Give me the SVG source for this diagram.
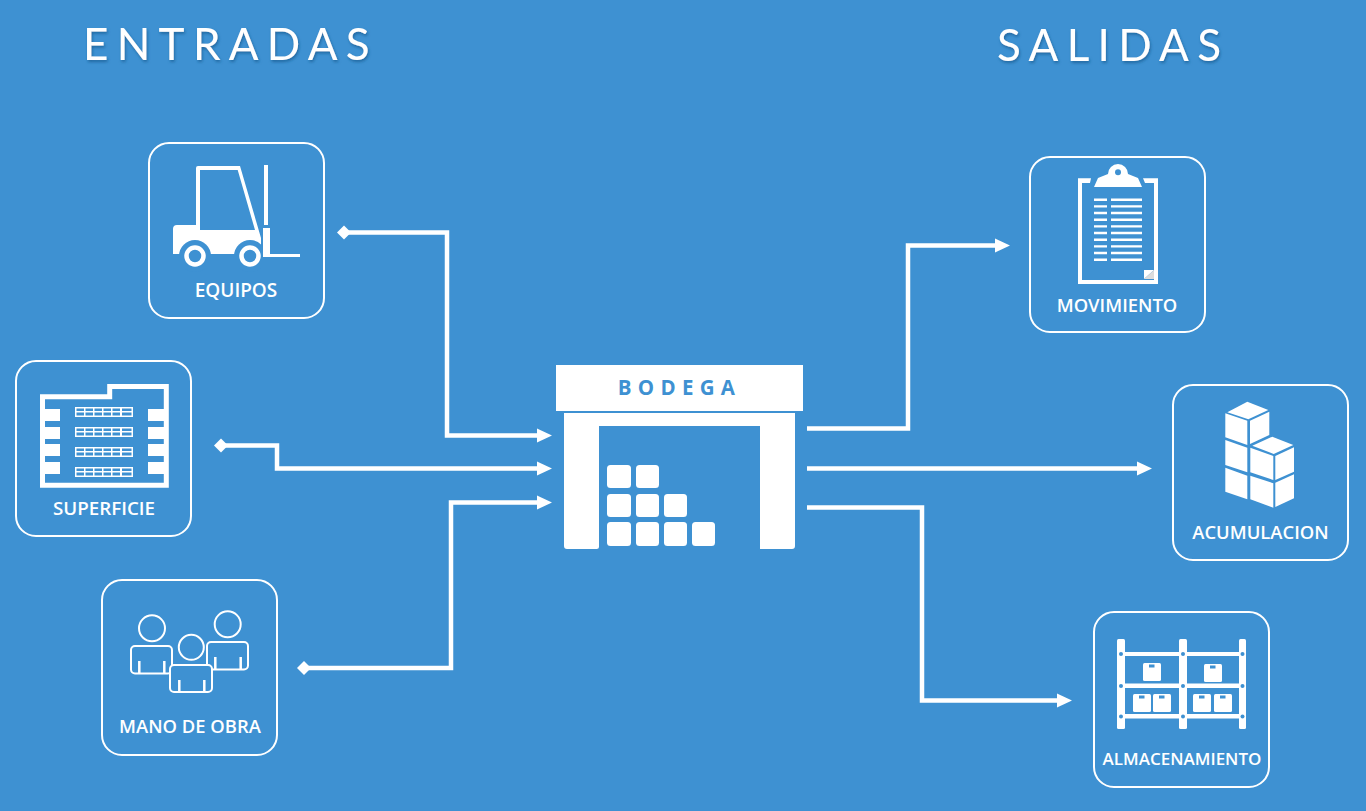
<svg xmlns="http://www.w3.org/2000/svg" width="1366" height="811" viewBox="0 0 1366 811">
<style>
.bg{fill:#3e91d2}
.w{fill:#fff}
.b{fill:#3e91d2}
.card{fill:none;stroke:#fff;stroke-width:2}
.label{font-family:"Open Sans","Liberation Sans",sans-serif;font-weight:600;font-size:18.400px;fill:#fff;text-anchor:middle}
.title{font-family:Lato,"Liberation Sans",sans-serif;font-weight:400;font-size:44px;letter-spacing:8.300px;fill:#fff;filter:url(#sh)}
.conn{fill:none;stroke:#fff;stroke-width:4.500}
.ol{fill:#3e91d2;stroke:#fff;stroke-width:2}
.tick{stroke:#fff;stroke-width:2.500}
</style>
<defs>
<filter id="sh" x="-5%" y="-20%" width="110%" height="150%"><feDropShadow dx="1" dy="2" stdDeviation="1.500" flood-color="#1d5f94" flood-opacity="0.8"/></filter>
<marker id="arrow" markerUnits="userSpaceOnUse" markerWidth="16" markerHeight="16" refX="0" refY="8" orient="auto" overflow="visible"><path d="M0 1L15 8L0 15Z" fill="#fff"/></marker>
<marker id="dia" markerUnits="userSpaceOnUse" markerWidth="16" markerHeight="16" refX="8" refY="8" orient="auto" overflow="visible"><path d="M8 1L15 8L8 15L1 8Z" fill="#fff"/></marker>
<g id="rack"><rect width="58" height="10" fill="#fff"/><g fill="#3e91d2"><rect x="1.500" y="1.500" width="7.500" height="2.500"/><rect x="10.500" y="1.500" width="7.500" height="2.500"/><rect x="19.500" y="1.500" width="7.500" height="2.500"/><rect x="28.500" y="1.500" width="7.500" height="2.500"/><rect x="37.500" y="1.500" width="7.500" height="2.500"/><rect x="47" y="1.500" width="9.500" height="2.500"/><rect x="1.500" y="5.500" width="7.500" height="3"/><rect x="10.500" y="5.500" width="7.500" height="3"/><rect x="19.500" y="5.500" width="7.500" height="3"/><rect x="28.500" y="5.500" width="7.500" height="3"/><rect x="37.500" y="5.500" width="7.500" height="3"/><rect x="47" y="5.500" width="9.500" height="3"/></g></g>
<g id="crate"><rect width="18" height="18" rx="1.500" fill="#fff"/><rect x="6" y="1.500" width="5.500" height="3" fill="#3e91d2"/></g>
</defs>
<rect class="bg" width="1366" height="811"/>
<text class="title" x="83" y="60">ENTRADAS</text>
<text class="title" x="997" y="61">SALIDAS</text>
<g id="connectors">
<path class="conn" d="M344 232.500H447V435.500H537" marker-start="url(#dia)" marker-end="url(#arrow)"/>
<path class="conn" d="M221 445.500H277V468.500H537" marker-start="url(#dia)" marker-end="url(#arrow)"/>
<path class="conn" d="M304 668H451V502.500H537" marker-start="url(#dia)" marker-end="url(#arrow)"/>
<path class="conn" d="M807 428.500H908V245.500H995" marker-end="url(#arrow)"/>
<path class="conn" d="M807 468.500H1137" marker-end="url(#arrow)"/>
<path class="conn" d="M807 507.500H922V700.500H1057" marker-end="url(#arrow)"/>
</g>
<g id="equipos">
<rect class="card" x="149" y="143" width="175" height="175" rx="20"/>
<path class="w" fill-rule="evenodd" d="M198 166H240L261 238V254H173V229Q173 225 177 225H196V168Q196 166 198 166ZM200 170V230H255L237.700 170Z"/>
<circle class="b" cx="195" cy="256" r="16"/><circle class="b" cx="250" cy="256" r="16"/>
<rect class="b" x="173" y="254" width="130" height="14"/>
<circle cx="195" cy="256" r="8.500" fill="none" stroke="#fff" stroke-width="4.500"/>
<circle cx="250" cy="256" r="8.500" fill="none" stroke="#fff" stroke-width="4.500"/>
<rect class="w" x="264" y="165" width="4" height="60"/>
<path class="w" d="M263 228H270V254H300V257H263Z"/>
<text class="label" x="236" y="296.500" style="font-size:19px">EQUIPOS</text>
</g>
<g id="superficie">
<rect class="card" x="16" y="361" width="175" height="175" rx="20"/>
<path fill="none" stroke="#fff" stroke-width="5" d="M42.500 485.300V396.800H109.700V386.500H166.300V485.300Z"/>
<g class="w"><rect x="45" y="409" width="15" height="12"/><rect x="45" y="427" width="15" height="12"/><rect x="45" y="444" width="15" height="12"/><rect x="45" y="462" width="15" height="12"/><rect x="148" y="409" width="16" height="12"/><rect x="148" y="427" width="16" height="12"/><rect x="148" y="444" width="16" height="12"/><rect x="148" y="462" width="16" height="12"/></g>
<use href="#rack" x="75" y="407"/><use href="#rack" x="75" y="427"/><use href="#rack" x="75" y="447"/><use href="#rack" x="75" y="467"/>
<text class="label" x="104" y="515" style="font-size:18.800px">SUPERFICIE</text>
</g>
<g id="mano-de-obra">
<rect class="card" x="102" y="580" width="175" height="175" rx="20"/>
<circle class="ol" cx="152" cy="628.300" r="13"/><circle class="ol" cx="227.700" cy="624.300" r="13"/>
<rect class="ol" x="131" y="646" width="41" height="27.500" rx="4"/><rect class="ol" x="207" y="642" width="41" height="27.500" rx="4"/>
<path class="tick" d="M139.300 661V673.500M164.300 661V673.500M215.300 657V669.500M240.700 657V669.500"/>
<circle class="ol" cx="191.300" cy="647.300" r="12.500"/>
<rect class="ol" x="170" y="665" width="42" height="27" rx="4"/>
<path class="tick" d="M179.300 680V692M204.300 680V692"/>
<text class="label" x="190" y="733">MANO DE OBRA</text>
</g>
<g id="bodega">
<rect class="w" x="556" y="365" width="247" height="46"/>
<path class="w" d="M564 413H795V546Q795 549 792 549H760V426H599V546.500Q599 549 596.500 549H567Q564 549 564 546Z"/>
<g class="w"><rect x="607" y="465" width="24" height="23" rx="3.500"/><rect x="636" y="465" width="23" height="23" rx="3.500"/><rect x="607" y="494" width="24" height="23" rx="3.500"/><rect x="636" y="494" width="23" height="23" rx="3.500"/><rect x="664" y="494" width="23" height="23" rx="3.500"/><rect x="607" y="522" width="24" height="24" rx="3.500"/><rect x="636" y="522" width="23" height="24" rx="3.500"/><rect x="664" y="522" width="23" height="24" rx="3.500"/><rect x="692" y="522" width="23" height="24" rx="3.500"/></g>
<text x="679.500" y="395" font-family="'Open Sans','Liberation Sans',sans-serif" font-weight="700" font-size="20.500px" letter-spacing="6.300" fill="#3e91d2" text-anchor="middle">BODEGA</text>
</g>
<g id="movimiento">
<rect class="card" x="1030" y="157" width="175" height="175" rx="20"/>
<path class="w" d="M1078 178.300H1091L1090 183H1082V280H1154V183H1145L1143 178.300H1158V284H1078Z"/>
<path class="w" d="M1094 187L1098 178L1108 174A10 10 0 0 1 1128 174L1138 178L1142 187Z"/>
<circle class="b" cx="1118" cy="172.300" r="3"/>
<path fill="none" stroke="#fff" stroke-width="2.400" d="M1094 199.700H1107M1111 199.700H1142M1094 206.400H1107M1111 206.400H1142M1094 213H1107M1111 213H1142M1094 219.700H1107M1111 219.700H1142M1094 226.400H1107M1111 226.400H1142M1094 233H1107M1111 233H1142M1094 239.700H1107M1111 239.700H1142M1094 246.400H1107M1111 246.400H1142M1094 253H1107M1111 253H1142M1094 259.700H1107M1111 259.700H1142"/>
<path class="w" d="M1144 270H1154L1144 279Z"/><path fill="#dcdcdc" d="M1154 270V279H1144Z"/>
<text class="label" x="1117" y="311.500">MOVIMIENTO</text>
</g>
<g id="acumulacion">
<rect class="card" x="1173" y="385" width="175" height="175" rx="20"/>
<g class="w">
<path d="M1227.300 412.300L1247.300 401.700L1268.300 410L1248.300 419.300Z"/>
<path d="M1225.300 413.300L1247.300 420.700V445L1225.300 437.300Z"/>
<path d="M1250 420.700L1269.300 411.700V435L1250 444Z"/>
<path d="M1225.300 440L1247.300 447.700V472.300L1225.300 465Z"/>
<path d="M1225.300 467.700L1247.300 475.700V499.300L1225.300 491.700Z"/>
<path d="M1252.300 445.700L1272.300 436.700L1293.300 445L1273.700 454Z"/>
<path d="M1250.300 447.700L1273.300 456V480L1250.300 472.300Z"/>
<path d="M1275.300 456L1294 447.300V471.700L1275.300 480Z"/>
<path d="M1250.300 475.700L1273.300 483.300V507.700L1250.300 499.300Z"/>
<path d="M1275.300 482.700L1294 474.300V498.300L1275.300 507Z"/>
</g>
<text class="label" x="1260.500" y="538.500">ACUMULACION</text>
</g>
<g id="almacenamiento">
<rect class="card" x="1094" y="612" width="175" height="175" rx="20"/>
<g class="w">
<rect x="1117" y="639" width="8" height="90" rx="1.500"/><rect x="1179" y="639" width="8" height="90" rx="1.500"/><rect x="1239" y="639" width="7" height="90" rx="1.500"/>
<rect x="1124" y="652" width="116" height="4"/><rect x="1124" y="683.500" width="116" height="4.500"/><rect x="1124" y="714" width="116" height="4.500"/>
</g>
<g class="b"><circle cx="1121" cy="654" r="2"/><circle cx="1183" cy="654" r="2"/><circle cx="1242.500" cy="654" r="2"/><circle cx="1121" cy="686" r="2"/><circle cx="1183" cy="686" r="2"/><circle cx="1242.500" cy="686" r="2"/><circle cx="1121" cy="716.500" r="2"/><circle cx="1183" cy="716.500" r="2"/><circle cx="1242.500" cy="716.500" r="2"/></g>
<use href="#crate" x="1143" y="663"/><use href="#crate" x="1204" y="664"/><use href="#crate" x="1133" y="694"/><use href="#crate" x="1153" y="694"/><use href="#crate" x="1193" y="694"/><use href="#crate" x="1214" y="694"/>
<text class="label" x="1182" y="764.500" style="font-size:17px">ALMACENAMIENTO</text>
</g>
</svg>
